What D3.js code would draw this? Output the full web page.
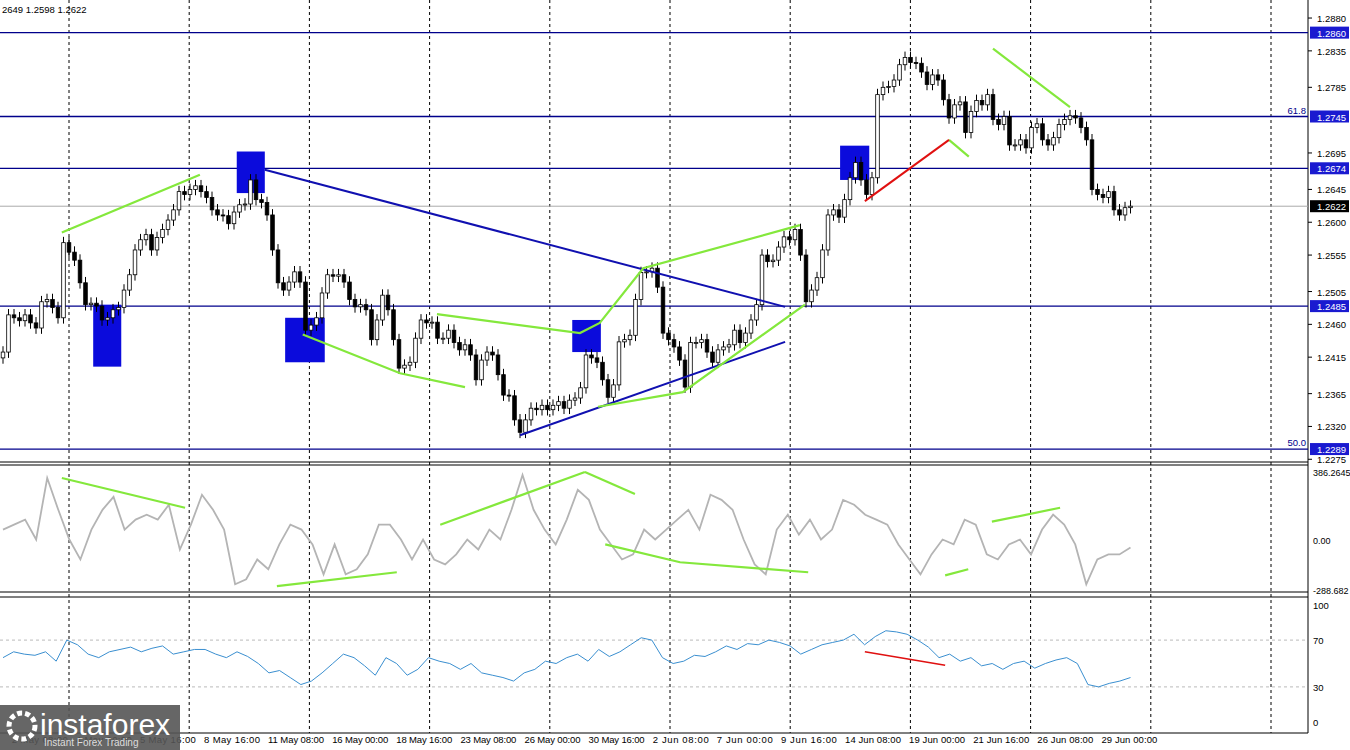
<!DOCTYPE html><html><head><meta charset="utf-8"><script src="https://cdn.jsdelivr.net/npm/d3@7"></script>
<style>body{margin:0;background:#fff}svg{font-family:"Liberation Sans",Arial,sans-serif}</style></head><body>
<svg id="c" width="1350" height="750"></svg>
<script>
const closes=[1.2422,1.2473,1.2469,1.2465,1.2473,1.2462,1.2455,1.2491,1.2494,1.2483,1.2469,1.2572,1.2559,1.2548,1.2517,1.2487,1.2489,1.2485,1.2466,1.2469,1.2480,1.2483,1.2507,1.2528,1.2562,1.2576,1.2583,1.2562,1.2579,1.2590,1.2603,1.2617,1.2642,1.2638,1.2645,1.2650,1.2642,1.2634,1.2617,1.2610,1.2609,1.2598,1.2614,1.2624,1.2625,1.2658,1.2631,1.2627,1.2610,1.2562,1.2517,1.2507,1.2518,1.2532,1.2518,1.2452,1.2459,1.2469,1.2503,1.2528,1.2526,1.2528,1.2518,1.2494,1.2484,1.2487,1.2480,1.2439,1.2466,1.2500,1.2480,1.2439,1.2400,1.2404,1.2408,1.2441,1.2466,1.2462,1.2463,1.2441,1.2441,1.2452,1.2435,1.2425,1.2432,1.2418,1.2384,1.2411,1.2422,1.2418,1.2391,1.2363,1.2362,1.2329,1.2312,1.2329,1.2345,1.2343,1.2349,1.2343,1.2349,1.2354,1.2345,1.2356,1.2359,1.2373,1.2418,1.2414,1.2408,1.2384,1.2360,1.2377,1.2436,1.2439,1.2445,1.2494,1.2531,1.2532,1.2537,1.2511,1.2448,1.2439,1.2429,1.2411,1.2374,1.2435,1.2435,1.2439,1.2422,1.2408,1.2425,1.2429,1.2432,1.2452,1.2435,1.2448,1.2466,1.2487,1.2555,1.2546,1.2548,1.2566,1.2580,1.2576,1.2590,1.2555,1.2491,1.2507,1.2524,1.2562,1.2610,1.2617,1.2607,1.2631,1.2661,1.2682,1.2658,1.2638,1.2661,1.2775,1.2785,1.2786,1.2795,1.2816,1.2826,1.2819,1.2818,1.2806,1.2789,1.2802,1.2795,1.2768,1.2743,1.2761,1.2765,1.2723,1.2752,1.2767,1.2761,1.2775,1.2741,1.2734,1.2745,1.2706,1.2706,1.2713,1.2702,1.2730,1.2735,1.2713,1.2706,1.2716,1.2734,1.2741,1.2746,1.2743,1.2730,1.2713,1.2645,1.2638,1.2634,1.2642,1.2617,1.2610,1.2620,1.2622];
const cci=[57,85,114,0,352,170,0,-114,57,170,244,57,114,142,114,199,-57,85,256,170,57,-256,-227,-114,-170,-28,85,57,-28,-199,-28,-199,-170,-85,85,85,0,-114,0,-114,-142,-85,0,-57,57,0,170,369,170,57,-28,114,284,227,57,-28,-114,-85,57,0,57,114,170,57,256,227,170,0,-142,-199,57,142,28,114,0,57,227,199,142,114,85,-28,-114,-199,-85,0,-28,114,85,-85,-114,-28,0,-85,57,142,85,-28,-256,-114,-85,-85,-45];
const rsi=[55,60,58,57,60,52,70,66,58,55,60,62,64,60,63,65,58,60,62,62,58,55,60,56,50,42,44,38,32,35,42,50,58,55,48,40,55,50,40,45,55,52,50,45,50,42,40,38,35,42,45,52,50,55,58,52,62,56,60,66,72,70,55,50,52,57,56,60,65,62,67,66,70,68,65,58,62,66,68,70,75,66,73,78,77,75,70,64,55,58,52,55,48,50,45,50,52,46,50,53,55,50,32,30,33,35,38];
const priceTicks=[1.2880,1.2835,1.2785,1.2695,1.2645,1.2600,1.2555,1.2505,1.2460,1.2415,1.2365,1.2320,1.2275];
const levels=[1.2860,1.2745,1.2674,1.2485,1.2289];
const fibLabels={"1.2745":"61.8","1.2289":"50.0"};
const lastPrice=1.2622;
const dateLabels=["2 May 08:00","4 May 00:00","5 May 16:00","8 May 16:00","11 May 08:00","16 May 00:00","18 May 16:00","23 May 08:00","26 May 00:00","30 May 16:00","2 Jun 08:00","7 Jun 00:00","9 Jun 16:00","14 Jun 08:00","19 Jun 00:00","21 Jun 16:00","26 Jun 08:00","29 Jun 00:00"];
const cciTicks=[386.2645,0,-288.682];
const rsiTicks=[100,70,30,0];
// annotation anchors: [candle index, price]
const greenPriceLines=[[[10.7,1.2586],[35.8,1.2665]],[[54.5,1.2446],[72.2,1.2393],[84,1.2374]],[[78.9,1.2474],[104.9,1.2448],[108.5,1.2462],[116.4,1.2537],[144.9,1.2596]],[[108.2,1.2347],[123.6,1.2367],[145.8,1.2487]],[[180,1.2838],[194,1.2758]],[[172,1.2713],[175.6,1.2690]]];
const redPriceLines=[[[156.7,1.2629],[172,1.2713]]];
const bluePriceLines=[[[47.6,1.2672],[142.2,1.2484]],[[94,1.2308],[142.2,1.2436]]];
const blueBoxes=[[16.4,21.5,1.2487,1.2402],[42.5,47.6,1.2697,1.2640],[51.3,58.5,1.2469,1.2408],[103.5,108.7,1.2466,1.2422],[152.2,157.5,1.2705,1.2658]];
const greenCCI=[[[10.7,352],[33.1,182]],[[49.8,-267],[71.6,-187]],[[79.5,85],[105.8,386]],[[105.8,386],[114.9,261]],[[109.5,-28],[123.1,-130],[146.4,-187]],[[171.3,-205],[175.5,-170]],[[179.8,102],[192.2,182]]];
const redRSI=[[[156.7,60],[171.3,48.5]]];

const svg=d3.select("#c");
const n=closes.length;
const X0=3,X1=1130.5,AX=1308;
const x=d3.scaleLinear().domain([0,n-1]).range([X0,X1]);
const y=d3.scaleLinear().domain([1.2274,1.2902]).range([460,2]);
const yc=d3.scaleLinear().domain([-288.682,386.2645]).range([590,472]);
const yr=d3.scaleLinear().domain([0,100]).range([722,605]);
const xc=d3.scaleLinear().domain([0,cci.length-1]).range([X0,X1]);
const xr=d3.scaleLinear().domain([0,rsi.length-1]).range([X0,X1]);
const navy="#00008b";

[[462,465],[592,597]].forEach(([a,b])=>{[a,b].forEach(v=>svg.append("line").attr("x1",0).attr("x2",AX).attr("y1",v).attr("y2",v).attr("stroke","#000"));});
svg.append("line").attr("x1",0).attr("x2",AX).attr("y1",733).attr("y2",733).attr("stroke","#000");
svg.append("line").attr("x1",AX).attr("x2",AX).attr("y1",0).attr("y2",733).attr("stroke","#000");
const xd=d3.scaleLinear().domain([0,dateLabels.length]).range([11.7,11.7+64.1*dateLabels.length]);
for(let g=69;g<AX;g+=120.2){svg.append("line").attr("x1",g).attr("x2",g).attr("y1",0).attr("y2",733).attr("stroke","#000").attr("stroke-dasharray","3,3");}
dateLabels.forEach((d,i)=>svg.append("text").attr("x",xd(i)).attr("y",743).attr("font-size",9.5).attr("textLength",56).attr("fill","#000").text(d));

priceTicks.forEach(p=>{svg.append("line").attr("x1",AX).attr("x2",AX+4).attr("y1",y(p)).attr("y2",y(p)).attr("stroke","#000");svg.append("text").attr("x",AX+9).attr("y",y(p)+4).attr("font-size",9.5).text(p.toFixed(4));});
levels.forEach(l=>{svg.append("line").attr("x1",0).attr("x2",AX).attr("y1",y(l)).attr("y2",y(l)).attr("stroke",navy).attr("stroke-width",1.3);
 svg.append("rect").attr("x",AX+2).attr("y",y(l)-6).attr("width",39).attr("height",12).attr("fill","#1a1ad0");
 svg.append("text").attr("x",AX+9).attr("y",y(l)+4).attr("font-size",9.5).attr("fill","#fff").text(l.toFixed(4));
 const f=fibLabels[l.toFixed(4)]; if(f) svg.append("text").attr("x",AX-2).attr("y",y(l)-3).attr("text-anchor","end").attr("font-size",9.5).attr("fill",navy).text(f);});
svg.append("line").attr("x1",0).attr("x2",AX).attr("y1",y(lastPrice)).attr("y2",y(lastPrice)).attr("stroke","#aaa");
svg.append("rect").attr("x",AX+2).attr("y",y(lastPrice)-6).attr("width",39).attr("height",12).attr("fill","#000");
svg.append("text").attr("x",AX+9).attr("y",y(lastPrice)+4).attr("font-size",9.5).attr("fill","#fff").text(lastPrice.toFixed(4));

blueBoxes.forEach(([a,b,p1,p2])=>svg.append("rect").attr("x",x(a)).attr("y",y(p1)).attr("width",x(b)-x(a)).attr("height",y(p2)-y(p1)).attr("fill","#0b0bdc"));

const cw=3.6;
closes.forEach((c,i)=>{const o=i?closes[i-1]:c-0.0008;const hi=Math.max(o,c)+0.0008,lo=Math.min(o,c)-0.0008;
 const cx=x(i);
 svg.append("line").attr("x1",cx).attr("x2",cx).attr("y1",y(hi)).attr("y2",y(lo)).attr("stroke","#000");
 svg.append("rect").attr("x",cx-cw/2).attr("y",y(Math.max(o,c))).attr("width",cw).attr("height",Math.max(1,Math.abs(y(o)-y(c)))).attr("fill",c>=o?"#fff":"#000").attr("stroke","#000").attr("stroke-width",0.8);});

const lp=d3.line().x(d=>x(d[0])).y(d=>y(d[1]));
bluePriceLines.forEach(l=>svg.append("path").attr("d",lp(l)).attr("stroke","#1010b0").attr("stroke-width",2).attr("fill","none"));
greenPriceLines.forEach(l=>svg.append("path").attr("d",lp(l)).attr("stroke","#84e83c").attr("stroke-width",2.2).attr("fill","none"));
redPriceLines.forEach(l=>svg.append("path").attr("d",lp(l)).attr("stroke","#e01010").attr("stroke-width",2).attr("fill","none"));

cciTicks.forEach(t=>svg.append("text").attr("x",AX+5).attr("y",yc(t)+4).attr("font-size",9).text(t===0?"0.00":String(t)));
svg.append("path").attr("d",d3.line().x((d,i)=>xc(i)).y(d=>yc(d))(cci)).attr("stroke","#b4b4b4").attr("stroke-width",1.8).attr("fill","none");
const lc=d3.line().x(d=>x(d[0])).y(d=>yc(d[1]));
greenCCI.forEach(l=>svg.append("path").attr("d",lc(l)).attr("stroke","#84e83c").attr("stroke-width",2.2).attr("fill","none"));

[70,30].forEach(t=>svg.append("line").attr("x1",0).attr("x2",AX).attr("y1",yr(t)).attr("y2",yr(t)).attr("stroke","#bbb").attr("stroke-dasharray","3,3"));
rsiTicks.forEach(t=>svg.append("text").attr("x",AX+5).attr("y",yr(t)+4).attr("font-size",9.5).text(t));
svg.append("path").attr("d",d3.line().x((d,i)=>xr(i)).y(d=>yr(d))(rsi)).attr("stroke","#3a8fd0").attr("stroke-width",1).attr("fill","none");
const lr=d3.line().x(d=>x(d[0])).y(d=>yr(d[1]));
redRSI.forEach(l=>svg.append("path").attr("d",lr(l)).attr("stroke","#e01010").attr("stroke-width",1.6).attr("fill","none"));

svg.append("text").attr("x",2).attr("y",13).attr("font-size",9.5).text("2649 1.2598 1.2622");
svg.append("rect").attr("x",0).attr("y",705).attr("width",180).attr("height",45).attr("fill","#555").attr("opacity",0.9);
svg.append("text").attr("x",40).attr("y",735).attr("font-size",30).attr("fill","#fff").text("instaforex");
svg.append("circle").attr("cx",22).attr("cy",726).attr("r",13).attr("fill","none").attr("stroke","#fff").attr("stroke-width",5).attr("stroke-dasharray","5,3");
svg.append("text").attr("x",44).attr("y",746).attr("font-size",10).attr("fill","#ddd").text("Instant Forex Trading");
</script></body></html>
